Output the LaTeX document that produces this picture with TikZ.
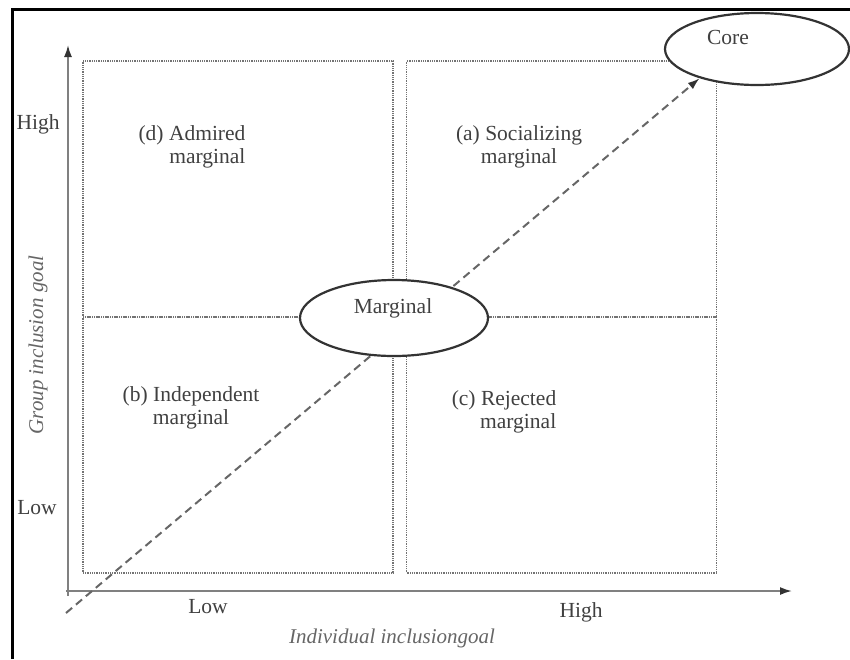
\documentclass[tikz,border=0pt]{standalone}
\usepackage{fontspec}
\setmainfont{Liberation Serif}
\usetikzlibrary{arrows.meta, positioning, shapes.geometric}

\begin{document}
\begin{tikzpicture}[
  x=1pt, y=-1pt,
  quad/.style={draw=black!55, line width=1.7pt, dash pattern=on 1pt off 0.8pt, minimum width=310pt, minimum height=256pt, inner sep=0pt},
  oval/.style={ellipse, draw=black!80, line width=2.2pt, fill=white, inner sep=0pt},
  lbl/.style={text=black!75, font=\fontsize{21.5}{23}\selectfont, align=center},
  axlbl/.style={text=black!60, font=\fontsize{21}{23}\selectfont\itshape},
  axis/.style={draw=black!50, line width=1.8pt, -{Latex[length=12pt, width=8pt, color=black!80]}},
  arrow/.style={draw=black!60, line width=2pt, dash pattern=on 8pt off 5pt, -{Latex[length=12pt, width=8pt, color=black!80]}}
]
\useasboundingbox (0,0) rectangle (850,659);
\draw[line width=3pt] (12,659) -- (12,9) -- (850,9);

% quadrants
\node[quad] (qd) at (238,189) {};
\node[quad] (qa) at (561.5,189) {};
\node[quad] (qb) at (238,445) {};
\node[quad] (qc) at (561.5,445) {};

% axes
\coordinate (origin) at (68,596);
\coordinate (ytop) at (68,45);
\coordinate (xleft) at (66,591);
\coordinate (xright) at (792,591);
\draw[axis] (origin) -- (ytop);
\draw[axis] (xleft) -- (xright);

% states
\node[oval, minimum width=184pt, minimum height=72pt] (core) at (757,49) {};
\node[lbl] (coretxt) at ([xshift=-29pt, yshift=12pt]core.center) {Core};

\coordinate (start) at (66,613);
\draw[arrow] (start) -- (core.207);

\node[oval, minimum width=188pt, minimum height=76pt] (marg) at (394,318) {};
\node[lbl] (margtxt) at ([xshift=-1pt, yshift=10pt]marg.center) {Marginal};

% quadrant labels
\node[lbl, align=right] (ld) at (192,147) {(d) Admired\\marginal};
\node[lbl] (la) at (519,147) {(a) Socializing\\marginal};
\node[lbl] (lb) at (191,408) {(b) Independent\\marginal};
\node[lbl, align=right] (lc) at (504,412) {(c) Rejected\\marginal};

% axis labels
\node[lbl] (yhigh) at (38,124) {High};
\node[lbl] (ylow) at (37,508) {Low};
\node[lbl] (xlow) at (208,607) {Low};
\node[lbl] (xhigh) at (581,612) {High};
\node[axlbl] (xlab) at (392,638) {Individual inclusiongoal};
\node[axlbl, rotate=90] (ylab) at (38,345) {Group inclusion goal};
\end{tikzpicture}
\end{document}
